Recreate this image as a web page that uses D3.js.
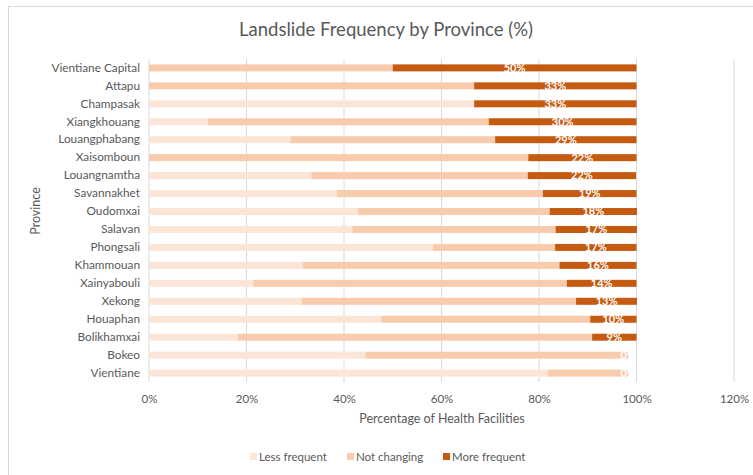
<!DOCTYPE html>
<html>
<head>
  <meta charset="utf-8">
  <title>Landslide Frequency by Province</title>
  <script src="https://cdn.jsdelivr.net/npm/d3@7"></script>
  <style>
    body { margin: 0; background: #fff; }
    text { font-family: Lato, "Open Sans", sans-serif; fill: #595959; }
  </style>
</head>
<body>
<svg id="chart" width="753" height="475"></svg>
<script>
  // data
  const provinces = ['Vientiane Capital', 'Attapu', 'Champasak', 'Xiangkhouang', 'Louangphabang',
    'Xaisomboun', 'Louangnamtha', 'Savannakhet', 'Oudomxai', 'Salavan', 'Phongsali', 'Khammouan',
    'Xainyabouli', 'Xekong', 'Houaphan', 'Bolikhamxai', 'Bokeo', 'Vientiane'];
  const lessFrequent = [0, 0, 66.7, 12.1, 29.0, 0, 33.3, 38.5, 42.9, 41.7, 58.3, 31.6, 21.4, 31.3, 47.6, 18.2, 44.4, 81.8];
  const notChanging = [50, 66.7, 0, 57.6, 42.0, 77.8, 44.4, 42.3, 39.3, 41.7, 25.0, 52.6, 64.3, 56.3, 42.9, 72.7, 53.9, 16.5];
  const moreFrequent = [50, 33.3, 33.3, 30.3, 29.0, 22.2, 22.2, 19.2, 17.9, 16.7, 16.7, 15.8, 14.3, 12.5, 9.5, 9.1, 0, 0];
  const seriesNames = ['Less frequent', 'Not changing', 'More frequent'];
  const colors = ['#fbe5d6', '#f8cbad', '#c55a11'];
  const xTicks = [0, 20, 40, 60, 80, 100, 120];

  const rows = provinces.map((p, i) => ({
    province: p,
    'Less frequent': lessFrequent[i],
    'Not changing': notChanging[i],
    'More frequent': moreFrequent[i]
  }));

  const svg = d3.select('#chart');
  const margin = { left: 149, right: 19, top: 59, bottom: 93 };
  const width = 753 - margin.left - margin.right;
  const height = 475 - margin.top - margin.bottom;

  // chart frame
  svg.append('rect')
    .attr('x', 8.5).attr('y', 6.5)
    .attr('width', 800).attr('height', 500)
    .attr('fill', 'none').attr('stroke', '#d9d9d9');

  svg.append('text')
    .attr('x', 386).attr('y', 36)
    .attr('text-anchor', 'middle')
    .style('font-size', '18.5px')
    .text('Landslide Frequency by Province (%)');

  const g = svg.append('g').attr('transform', `translate(${margin.left},${margin.top})`);

  const x = d3.scaleLinear().domain([0, 120]).range([0, 585]);
  const y = d3.scaleBand().domain(provinces).range([0, height]).paddingInner(0.61).paddingOuter(0.3);

  // gridlines
  g.selectAll('.grid').data(xTicks.slice(1)).enter().append('line')
    .attr('x1', d => x(d)).attr('x2', d => x(d))
    .attr('y1', 0).attr('y2', height)
    .attr('stroke', '#d9d9d9');
  g.append('line')
    .attr('x1', 0).attr('x2', 0).attr('y1', 0).attr('y2', height)
    .attr('stroke', '#d9d9d9');

  const stack = d3.stack().keys(seriesNames)(rows);

  const layers = g.selectAll('.layer').data(stack).enter().append('g')
    .attr('fill', (d, i) => colors[i]);
  layers.selectAll('rect').data(d => d).enter().append('rect')
    .attr('x', d => x(d[0]))
    .attr('y', d => y(d.data.province))
    .attr('width', d => x(d[1]) - x(d[0]))
    .attr('height', y.bandwidth());

  // data labels for More frequent
  const moreLayer = stack[2];
  g.selectAll('.lbl').data(moreLayer).enter().append('text')
    .attr('x', d => (x(d[0]) + x(d[1])) / 2)
    .attr('y', d => y(d.data.province) + y.bandwidth() / 2)
    .attr('dy', '0.35em')
    .attr('text-anchor', 'middle')
    .style('font-size', '11px')
    .style('font-weight', 'bold')
    .style('fill', '#fff')
    .text(d => Math.round(d[1] - d[0]) + '%');

  // y axis labels
  const yAxis = g.append('g').call(d3.axisLeft(y).tickSize(0).tickPadding(9));
  yAxis.select('.domain').remove();
  yAxis.selectAll('text').style('font-size', '11.8px').style('fill', '#595959').style('font-family', 'Lato, sans-serif');

  // x axis labels
  const xAxis = g.append('g').attr('transform', `translate(0,${height})`)
    .call(d3.axisBottom(x).tickValues(xTicks).tickFormat(d => d + '%').tickSize(0).tickPadding(13));
  xAxis.select('.domain').remove();
  xAxis.selectAll('text').style('font-size', '11.5px').style('fill', '#595959').style('font-family', 'Lato, sans-serif');

  svg.append('text')
    .attr('x', 442).attr('y', 423)
    .attr('text-anchor', 'middle')
    .style('font-size', '12.5px')
    .text('Percentage of Health Facilities');

  svg.append('text')
    .attr('transform', 'translate(40,211) rotate(-90)')
    .attr('text-anchor', 'middle')
    .style('font-size', '12.5px')
    .text('Province');

  // legend
  const legendX = [250, 347, 443];
  const legend = svg.append('g');
  seriesNames.forEach((name, i) => {
    legend.append('rect')
      .attr('x', legendX[i]).attr('y', 453)
      .attr('width', 7).attr('height', 7)
      .attr('fill', colors[i]);
    legend.append('text')
      .attr('x', legendX[i] + 9).attr('y', 457)
      .attr('dy', '0.35em')
      .style('font-size', '11.5px')
      .text(name);
  });
</script>
</body>
</html>
